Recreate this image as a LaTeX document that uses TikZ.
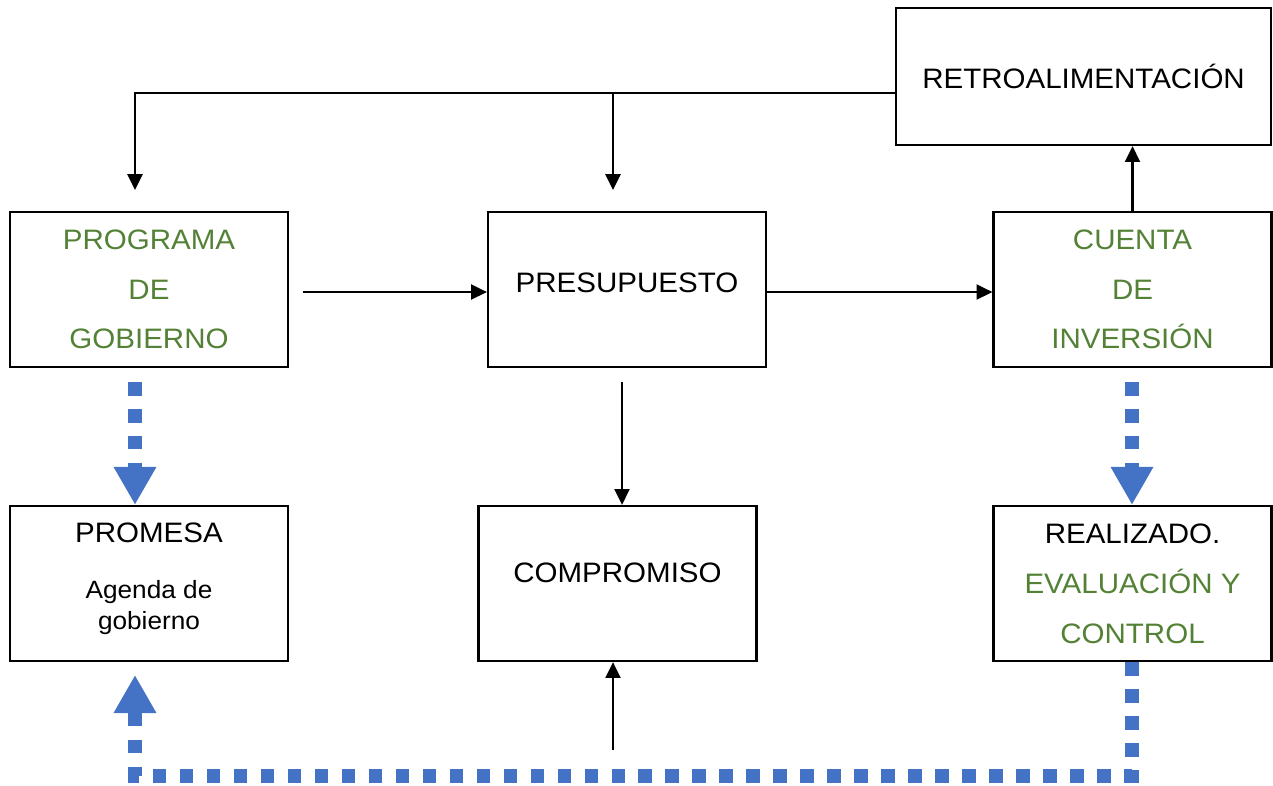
\documentclass[tikz,border=0pt]{standalone}
\usepackage{fontspec}
\setmainfont{Liberation Sans}[FakeStretch=1.05]
\usetikzlibrary{arrows.meta}
\definecolor{tgreen}{HTML}{538135}
\definecolor{tblue}{HTML}{4472C4}
\begin{document}
\begin{tikzpicture}[x=0.02cm,y=-0.02cm,
  box/.style={draw, line width=1.3pt, minimum width=5.56cm, minimum height=3.1cm,
    inner sep=0pt, align=center, font=\fontsize{16}{28.35}\selectfont},
  conn/.style={line width=1.35pt, -{Triangle[width=8.5pt,length=9pt]}},
  bdot/.style={tblue, line width=0.27cm, dash pattern=on 0.27cm off 0.27cm,
    -{Triangle[width=0.8cm,length=0.76cm]}}]
\useasboundingbox (0,0) rectangle (1273,785);

\node[box, minimum width=7.5cm, minimum height=2.74cm] (retro) at (1083.5,76.5) {RETROALIMENTACIÓN};
\node[box, text=tgreen] (prog) at (149,289.5) {PROGRAMA\\DE\\GOBIERNO};
\node[box, text depth=0.26cm] (pres) at (627,289.5) {PRESUPUESTO};
\node[box, text=tgreen] (cuenta) at (1132.5,289.5) {CUENTA\\DE\\INVERSIÓN};
\node[box, font=\fontsize{14.2}{17.6}\selectfont, text depth=0.3cm] (promesa) at (149,583.5)
  {{\fontsize{16}{17.6}\selectfont PROMESA}\\[14pt]Agenda de\\gobierno};
\node[box, text depth=0.42cm] (comp) at (617.5,583.5) {COMPROMISO};
\node[box] (real) at (1132.5,583.5) {REALIZADO.\\\textcolor{tgreen}{EVALUACIÓN Y}\\\textcolor{tgreen}{CONTROL}};

% feedback lines
\coordinate (fbL) at (135,93);
\coordinate (fbM) at (613,93);
\coordinate (fbT1) at (135,190);
\coordinate (fbT2) at (613,190);
\draw[conn] (retro.west |- fbL) -| (fbT1);
\draw[conn] (fbM) -- (fbT2);
\draw[conn] (cuenta.north) -- (retro.south -| cuenta.north);

% main flow
\coordinate (pstart) at (303,292);
\draw[conn] (pstart) -- (pres.west |- pstart);
\draw[conn] (pres.east |- pstart) -- (cuenta.west |- pstart);
\coordinate (cstart) at (622,382);
\draw[conn] (cstart) -- (comp.north -| cstart);
\coordinate (ustart) at (613,750);
\draw[conn] (ustart) -- (comp.south -| ustart);

% blue dotted arrows
\coordinate (bd1) at (135,382);
\coordinate (bd2) at (1132,382);
\coordinate (bd3) at (135,776);
\coordinate (bd4) at (135,675);
\draw[bdot] (bd1) -- (promesa.north -| bd1);
\draw[bdot] (bd2) -- (real.north -| bd2);
\draw[bdot] (real.south -| bd2) |- (bd3) -- (bd4);
\end{tikzpicture}
\end{document}
